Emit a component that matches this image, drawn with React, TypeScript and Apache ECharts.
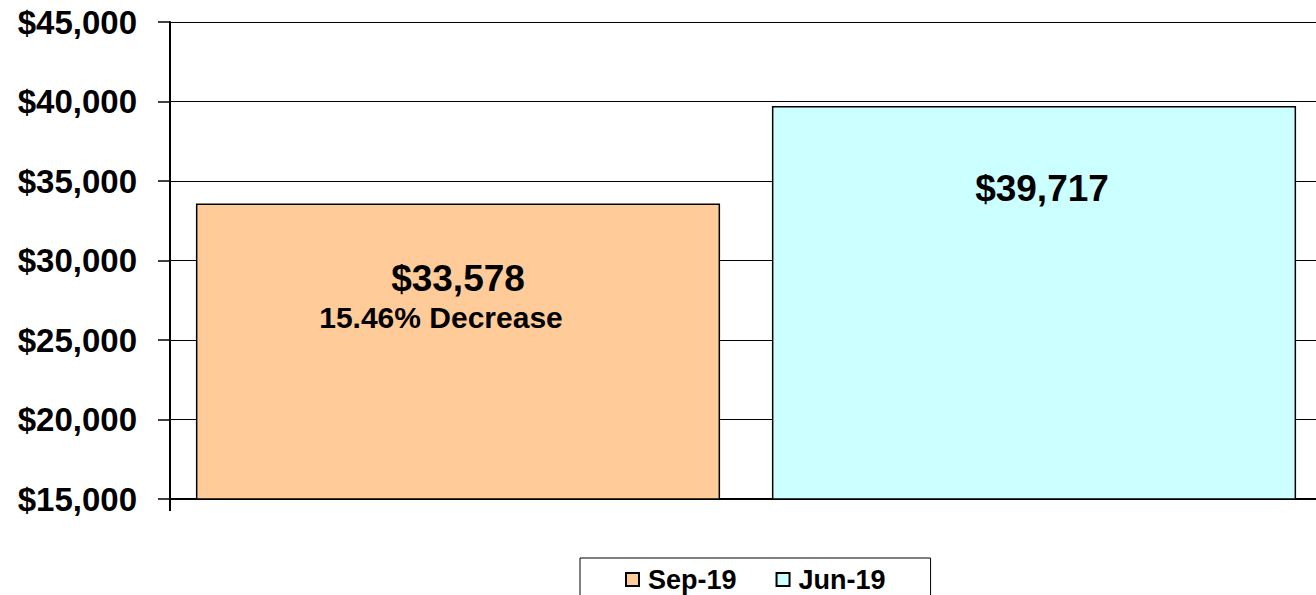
import React, { useEffect, useRef } from "react";
import * as echarts from "echarts";

const categories = ["Sep-19", "Jun-19"];
const seriesNames = ["Sep-19", "Jun-19"];
const sepValues = [33578, null];
const junValues = [null, 39717];
const yTicks = { min: 15000, max: 45000, interval: 5000 };

const fmt = (v: number) => "$" + v.toLocaleString("en-US");

export default function App() {
  const ref = useRef<HTMLDivElement>(null);
  useEffect(() => {
    if (!ref.current) return;
    const chart = echarts.init(ref.current, undefined, { renderer: "svg" });
    const sep = sepValues[0] as number;
    const jun = junValues[1] as number;
    const pct = (((jun - sep) / jun) * 100).toFixed(2) + "% " + (sep < jun ? "Decrease" : "Increase");
    const font = "'Liberation Sans', Arial, sans-serif";
    chart.setOption({
      animation: false,
      grid: { left: 170, top: 22, height: 477, right: 0, containLabel: false },
      legend: {
        data: seriesNames,
        left: 580,
        top: 558,
        orient: "horizontal",
        backgroundColor: "#fff",
        borderColor: "#000",
        borderWidth: 1,
        borderRadius: 0,
        padding: [8, 45, 30, 45],
        itemGap: 39,
        itemWidth: 13,
        itemHeight: 13,
        icon: "rect",
        textStyle: { fontFamily: font, fontWeight: "bold", fontSize: 27, color: "#000", padding: [0, 0, 0, 4] },
      },
      xAxis: {
        type: "category",
        data: categories,
        axisLine: { lineStyle: { color: "#000", width: 2 } },
        axisTick: { show: true, interval: (i: number) => i === 0, length: 12, lineStyle: { color: "#000", width: 2 } },
        axisLabel: { show: false },
      },
      yAxis: {
        type: "value",
        min: yTicks.min,
        max: yTicks.max,
        interval: yTicks.interval,
        axisLine: { show: true, lineStyle: { color: "#000", width: 2 } },
        axisTick: { show: true, length: 12, lineStyle: { color: "#000", width: 1.5 } },
        splitLine: { show: true, lineStyle: { color: "#000", width: 1.2 } },
        axisLabel: {
          formatter: (v: number) => fmt(v),
          fontFamily: font,
          fontWeight: "bold",
          fontSize: 33,
          color: "#000",
          margin: 33,
        },
      },
      series: [
        {
          name: seriesNames[0],
          type: "bar",
          data: sepValues,
          barWidth: "91%",
          barGap: "-100%",
          itemStyle: { color: "#FFCC99", borderColor: "#000", borderWidth: 1.5 },
          label: {
            show: true,
            position: "insideTop",
            distance: 54,
            formatter: (p: any) => `{a|${fmt(p.value)}}\n{b|${pct}}`,
            rich: {
              a: { fontFamily: font, fontWeight: "bold", fontSize: 37, color: "#000", lineHeight: 42 },
              b: { fontFamily: font, fontWeight: "bold", fontSize: 30, color: "#000", lineHeight: 36, padding: [0, 34, 0, 0] },
            },
          },
        },
        {
          name: seriesNames[1],
          type: "bar",
          data: junValues,
          barWidth: "91%",
          barGap: "-100%",
          itemStyle: { color: "#CCFFFF", borderColor: "#000", borderWidth: 1.5 },
          label: {
            show: true,
            position: "insideTop",
            distance: 64,
            offset: [8, 0],
            formatter: (p: any) => fmt(p.value),
            fontFamily: font,
            fontWeight: "bold",
            fontSize: 37,
            color: "#000",
          },
        },
      ],
    });
    return () => chart.dispose();
  }, []);
  return (
    <div style={{ width: 1316, height: 595, position: "absolute", left: 0, top: 0, overflow: "hidden" }}>
      <div ref={ref} style={{ width: 1322, height: 595 }} />
    </div>
  );
}
